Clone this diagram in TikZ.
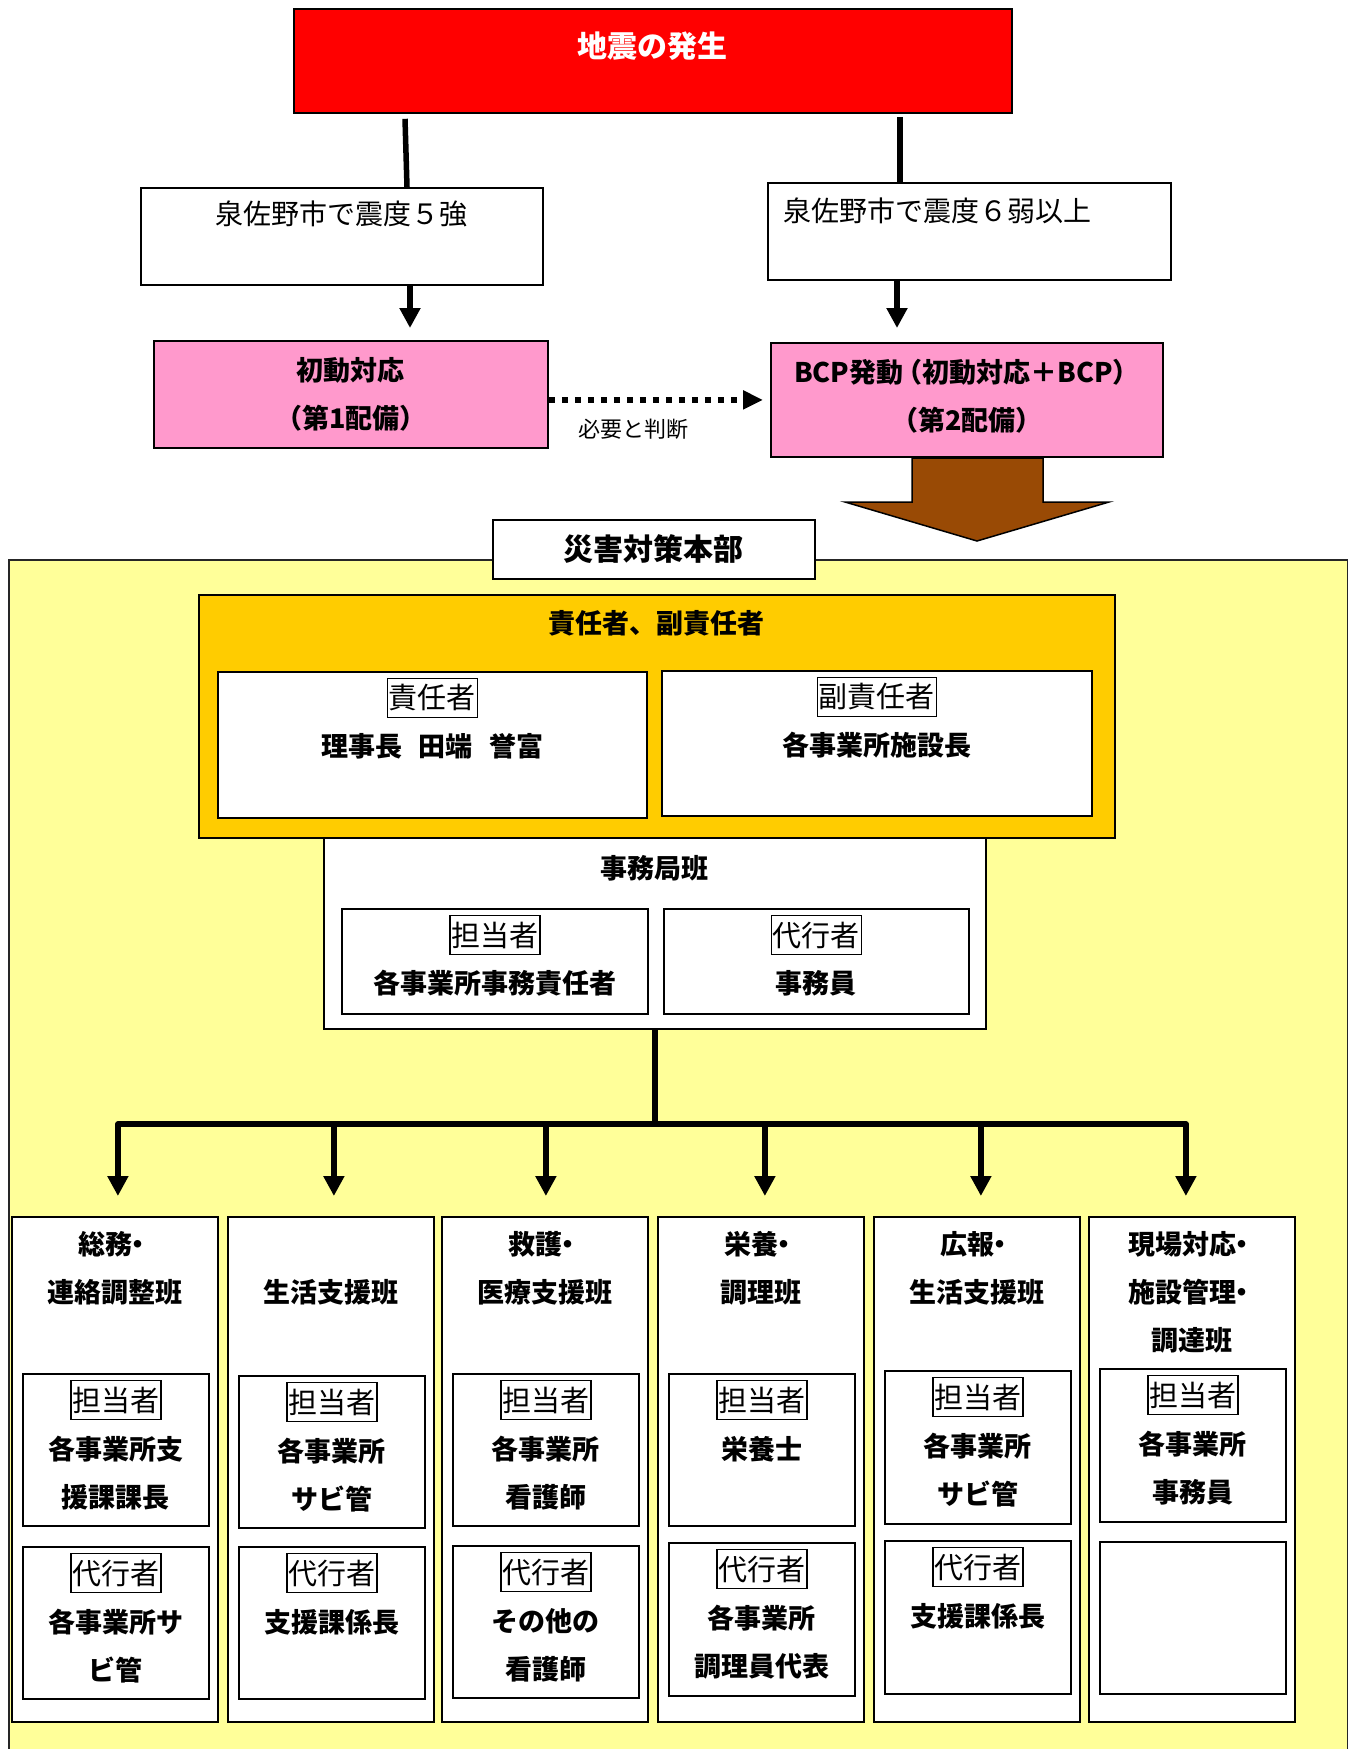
\documentclass[tikz,border=0pt]{standalone}
\usepackage{fontspec}
\setmainfont{Noto Sans CJK JP}
\usetikzlibrary{arrows.meta,calc}
\definecolor{myyellow}{HTML}{FFFF99}
\definecolor{myorange}{HTML}{FFCC00}
\definecolor{mypink}{HTML}{FF99CC}
\definecolor{mybrown}{RGB}{153,74,5}
\tikzset{
  frame/.style={draw=black, line width=1.8pt},
  bt/.style={font=\bfseries\fontsize{27}{48}\selectfont, align=center, inner sep=0pt},
  rt/.style={font=\fontsize{28}{34}\selectfont, inner sep=0pt},
  lab/.style={draw=black, line width=1.6pt, fill=white, font=\fontsize{29}{34}\selectfont, inner xsep=1.5pt, inner ysep=0pt, minimum height=39pt},
  conn/.style={line width=5.5pt, line join=round},
  tip/.style={-{Triangle[width=20pt,length=20pt]}},
}
\newcommand\mdot{\hspace{-0.3em}・\hspace{-0.35em}}
\newcommand\boxnode[6]{\node[#1, anchor=north west, minimum width={#5-#3}, minimum height={#6-#4}, inner sep=0pt] (#2) at (#3,#4) {};}
\newcommand\inbox[8]{%
  \boxnode{frame,fill=white}{#1}{#2}{#3}{#4}{#5}
  \node[lab] (#1l) at ([shift={(0,27)}]#1.north) {#6};
  \node[bt] (#1t) at ([shift={(0,#8)}]#1.north) {#7};}
\begin{document}
\begin{tikzpicture}[x=1pt,y=-1pt]
\useasboundingbox (0,0) rectangle (1349,1749);

% ---------- top section ----------
\boxnode{frame,fill=red}{red}{293}{8}{1011}{112}
\node[bt, text=white, font=\bfseries\fontsize{30}{36}\selectfont] (redt) at ([shift={(0,38)}]red.north) {地震の発生};

\boxnode{frame,fill=white}{b5}{140}{187}{542}{284}
\node[rt] (b5t) at ([shift={(0,27)}]b5.north) {泉佐野市で震度５強};
\boxnode{frame,fill=white}{b6}{767}{182}{1170}{279}
\node[rt, anchor=west] (b6t) at ([shift={(16,29)}]b6.north west) {泉佐野市で震度６弱以上};

\draw[conn] ([shift={(112,5)}]red.south west) -- ([shift={(267,0)}]b5.north west);
\draw[conn] ([shift={(607,3)}]red.south west) -- ([shift={(133,0)}]b6.north west);

\boxnode{frame,fill=mypink}{p1}{153}{340}{547}{447}
\node[bt] (p1t) at ([shift={(0,54.5)}]p1.north) {初動対応\\（第1配備）};
\boxnode{frame,fill=mypink}{p2}{770}{342}{1162}{456}
\node[bt] (p2t) at ([shift={(0,54)}]p2.north) {BCP発動\hspace{-0.3em}（初動対応＋BCP）\\（第2配備）};

\draw[conn, tip] ([shift={(270,0)}]b5.south west) -- ([shift={(257,-12)}]p1.north west);
\draw[conn, tip] ([shift={(130,0)}]b6.south west) -- ([shift={(127,-14)}]p2.north west);

\draw[line width=6pt, dash pattern=on 6pt off 7pt, -{Triangle[width=18pt,length=20pt]}]
  (p1.east |- p2.west) -- ([shift={(-7,0)}]p2.west);
\node[font=\fontsize{22}{26}\selectfont, inner sep=0pt] (need) at (633,429) {必要と判断};

% brown arrow
\draw[fill=mybrown, draw=black, line width=1.5pt]
  (912,458) -- (1043,458) -- (1043,502) -- (1109,502) -- (977,541) -- (845,502) -- (912,502) -- cycle;

% ---------- headquarters area ----------
\boxnode{fill=myyellow}{area}{9}{560}{1347}{1749}
\draw[line width=1.6pt, draw=black!85] (area.south west) -- (area.north west) -- (area.north east) -- (area.south east);

\boxnode{frame,fill=white}{hq}{492}{519}{814}{578}
\node[bt, font=\bfseries\fontsize{30}{36}\selectfont] (hqt) at (hq.center) {災害対策本部};

\boxnode{frame,fill=myorange}{lead}{198}{594}{1114}{837}
\node[bt] (leadt) at ([shift={(0,29)}]lead.north) {責任者、副責任者};
\inbox{leadl}{217}{671}{646}{817}{責任者}{理事長\hspace{0.6em}田端\hspace{0.6em}誉富}{75}
\inbox{leadr}{661}{670}{1091}{815}{副責任者}{各事業所施設長}{75}

\boxnode{frame,fill=white}{jimu}{323}{837}{985}{1028}
\node[bt] (jimut) at ([shift={(0,31)}]jimu.north) {事務局班};
\inbox{jimul}{341}{908}{647}{1013}{担当者}{各事業所事務責任者}{75}
\inbox{jimur}{663}{908}{968}{1013}{代行者}{事務員}{75}

% ---------- columns ----------
\boxnode{frame,fill=white}{c1}{11}{1216}{217}{1721}
\boxnode{frame,fill=white}{c2}{227}{1216}{433}{1721}
\boxnode{frame,fill=white}{c3}{441}{1216}{647}{1721}
\boxnode{frame,fill=white}{c4}{657}{1216}{863}{1721}
\boxnode{frame,fill=white}{c5}{873}{1216}{1079}{1721}
\boxnode{frame,fill=white}{c6}{1088}{1216}{1294}{1721}

\draw[conn, tip] (jimu.south) |- ([shift={(3,-92)}]c1.north) -- ([shift={(3,-20)}]c1.north);
\draw[conn, tip] (jimu.south) |- ([shift={(3,-92)}]c2.north) -- ([shift={(3,-20)}]c2.north);
\draw[conn, tip] (jimu.south) |- ([shift={(1,-92)}]c3.north) -- ([shift={(1,-20)}]c3.north);
\draw[conn, tip] (jimu.south) |- ([shift={(4,-92)}]c4.north) -- ([shift={(4,-20)}]c4.north);
\draw[conn, tip] (jimu.south) |- ([shift={(4,-92)}]c5.north) -- ([shift={(4,-20)}]c5.north);
\draw[conn, tip] (jimu.south) |- ([shift={(-6,-92)}]c6.north) -- ([shift={(-6,-20)}]c6.north);

\node[bt] (c1t) at ([shift={(0,52.5)}]c1.north) {総務\mdot\\連絡調整班};
\node[bt] (c2t) at ([shift={(0,76)}]c2.north) {生活支援班};
\node[bt] (c3t) at ([shift={(0,52.5)}]c3.north) {救護\mdot\\医療支援班};
\node[bt] (c4t) at ([shift={(0,52.5)}]c4.north) {栄養\mdot\\調理班};
\node[bt] (c5t) at ([shift={(0,52.5)}]c5.north) {広報\mdot\\生活支援班};
\node[bt] (c6t) at ([shift={(0,76)}]c6.north) {現場対応\mdot\\施設管理\mdot\\調達班};

\inbox{c1a}{22}{1373}{208}{1525}{担当者}{各事業所支\\援課課長}{100}
\inbox{c1b}{22}{1546}{208}{1698}{代行者}{各事業所サ\\ビ管}{100}
\inbox{c2a}{238}{1375}{424}{1527}{担当者}{各事業所\\サビ管}{100}
\inbox{c2b}{238}{1546}{424}{1698}{代行者}{支援課係長}{76}
\inbox{c3a}{452}{1373}{638}{1525}{担当者}{各事業所\\看護師}{100}
\inbox{c3b}{452}{1545}{638}{1697}{代行者}{その他の\\看護師}{100}
\inbox{c4a}{668}{1373}{854}{1525}{担当者}{栄養士}{76}
\inbox{c4b}{668}{1542}{854}{1695}{代行者}{各事業所\\調理員代表}{100}
\inbox{c5a}{884}{1370}{1070}{1523}{担当者}{各事業所\\サビ管}{100}
\inbox{c5b}{884}{1540}{1070}{1693}{代行者}{支援課係長}{76}
\inbox{c6a}{1099}{1368}{1285}{1521}{担当者}{各事業所\\事務員}{100}
\boxnode{frame,fill=white}{c6b}{1099}{1541}{1285}{1693}
\end{tikzpicture}
\end{document}
